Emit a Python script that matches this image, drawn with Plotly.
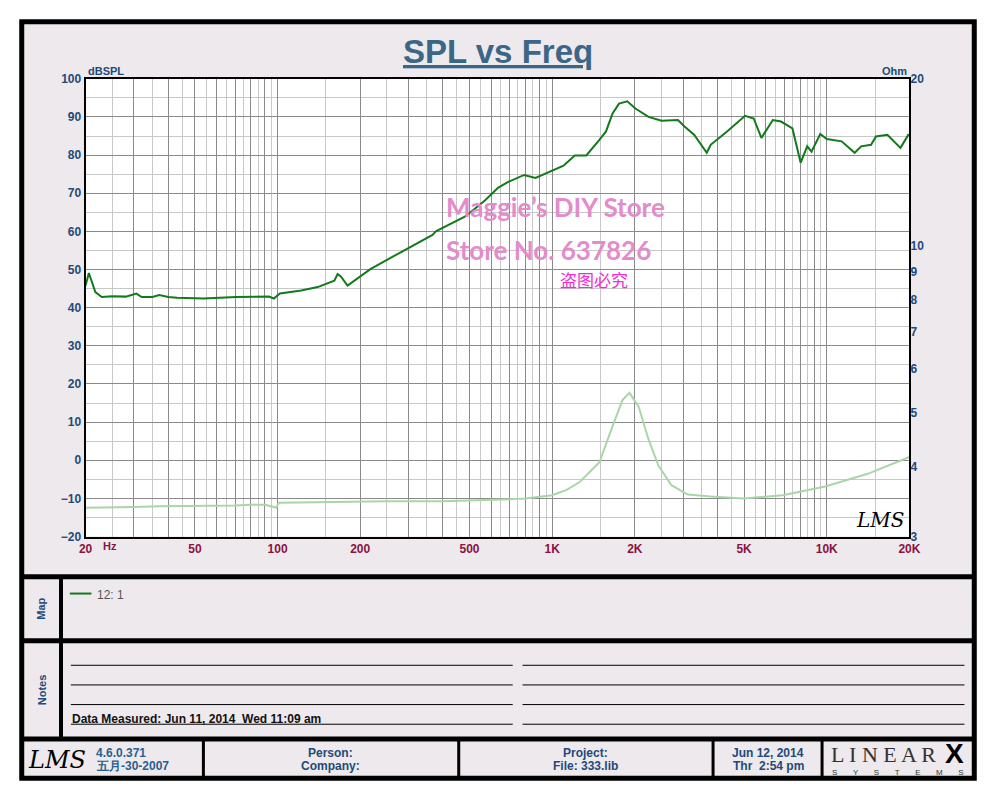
import numpy as np
import plotly.graph_objects as go

# ---------------- data ----------------
spl_freq = [20, 20.55, 21.7, 22.9, 25, 28, 30.6, 32, 35, 37.1, 40, 43.1, 53.7, 70.6, 93, 96.9,
            102, 109.6, 122, 140, 161, 165.5, 170, 179.8, 190, 217.8, 278.7, 366.7, 377, 457,
            482.8, 569, 635, 689, 791, 870, 985, 1100, 1209, 1332, 1486, 1571, 1660, 1752,
            1877, 2010, 2243, 2504, 2871, 3035, 3294, 3657, 3778, 4335, 5042, 5420, 5781,
            6364, 6815, 7500, 8035, 8490, 8800, 9471, 10010, 11330, 12640, 13350, 14500,
            15110, 16630, 18560, 19890]
spl_db = [45.8, 49.1, 44.1, 42.8, 43.0, 42.9, 43.7, 42.8, 42.8, 43.3, 42.8, 42.6, 42.4, 42.8, 42.9, 42.4,
          43.7, 44.0, 44.5, 45.4, 47.1, 48.8, 48.2, 45.8, 47.1, 50.1, 54.4, 59.1, 60.0, 63.2,
          63.9, 68.1, 71.4, 72.9, 74.8, 74.0, 75.7, 77.2, 79.9, 79.9, 84.0, 86.2, 90.9, 93.5,
          94.1, 92.2, 90.0, 89.0, 89.2, 87.5, 85.3, 80.6, 82.7, 86.2, 90.3, 89.6, 84.5,
          89.2, 88.8, 87.0, 78.0, 82.3, 80.9, 85.5, 84.2, 83.6, 80.6, 82.3, 82.7,
          84.9, 85.3, 81.9, 85.5]

imp_freq = [20, 25, 30, 37, 40, 50, 60, 70, 80, 90, 97, 99, 101, 150, 200, 250, 400, 500, 635,
            800, 1000, 1129, 1260, 1486, 1660, 1803, 1913, 2065, 2243, 2435, 2719, 3118, 3778,
            4971, 6910, 9870, 14100, 20000]
imp_ohm = [3.38, 3.38, 3.39, 3.40, 3.40, 3.40, 3.40, 3.41, 3.42, 3.42, 3.39, 3.38, 3.45, 3.46, 3.46,
           3.47, 3.47, 3.48, 3.49, 3.51, 3.56, 3.64, 3.76, 4.08, 4.74, 5.28, 5.44, 5.14, 4.49,
           4.03, 3.71, 3.57, 3.54, 3.51, 3.56, 3.69, 3.89, 4.17]

x_major = [20, 30, 40, 50, 60, 70, 80, 90, 100, 200, 300, 400, 500, 600, 700, 800, 900,
           1000, 2000, 3000, 4000, 5000, 6000, 7000, 8000, 9000, 10000, 20000]
x_labels = {20: "20", 50: "50", 100: "100", 200: "200", 500: "500", 1000: "1K",
            2000: "2K", 5000: "5K", 10000: "10K", 20000: "20K"}
x_minor = [25, 35, 45, 55, 65, 75, 85, 95, 150, 250, 350, 450, 550, 650, 750, 850, 950,
           1500, 2500, 3500, 4500, 5500, 6500, 7500, 8500, 9500, 15000]
ohm_ticks = [3, 4, 5, 6, 7, 8, 9, 10, 20]

# ---------------- helpers ----------------
W, H = 1000, 800
def px(x):
    return x / W
def py(y):
    return 1 - y / H

BG = "#EDE9EC"
NAVY = "#1F4A7A"
NARROW = "Liberation Sans Narrow, Arial Narrow, Liberation Sans, Arial"

fig = go.Figure()
fig.add_trace(go.Scatter(x=imp_freq, y=imp_ohm, yaxis="y2", mode="lines",
                         line=dict(color="#A9D6A6", width=2), showlegend=False, hoverinfo="skip"))
fig.add_trace(go.Scatter(x=spl_freq, y=spl_db, mode="lines",
                         line=dict(color="#137A1C", width=2), showlegend=False))

shapes = []
def rect(x0, y0, x1, y1, fill=None, lw=0, lc="black"):
    shapes.append(dict(type="rect", xref="paper", yref="paper", x0=px(x0), x1=px(x1),
                       y0=py(y1), y1=py(y0), fillcolor=fill if fill else "rgba(0,0,0,0)",
                       line=dict(width=lw, color=lc), layer="below"))
def line(x0, y0, x1, y1, lw=1, lc="black", layer="below"):
    shapes.append(dict(type="line", xref="paper", yref="paper", x0=px(x0), x1=px(x1),
                       y0=py(y0), y1=py(y1), line=dict(width=lw, color=lc), layer=layer))

rect(15, 15, 985, 785, fill=BG, lw=5)
rect(80, 73, 919, 539, fill="white")
# panel dividers
line(15, 580, 985, 580, lw=5)
line(15, 645, 985, 645, lw=5)
line(15, 745, 985, 745, lw=5)
line(55, 580, 55, 745, lw=4)
for xx in [200, 460, 719, 830]:
    line(xx, 745, xx, 785, lw=3)
# notes lines
for yy in [670, 690, 710, 730]:
    line(65, yy, 515, yy, lw=1)
    line(525, yy, 975, yy, lw=1)
# map legend sample
line(64, 597, 86, 597, lw=2, lc="#137A1C")

ann = []
def text(x, y, s, size=11, color=NAVY, bold=True, family=NARROW, anchor="center", angle=0, italic=False):
    ann.append(dict(x=px(x), y=py(y), xref="paper", yref="paper", text=s, showarrow=False,
                    xanchor=anchor, yanchor="middle", textangle=angle,
                    font=dict(size=size, color=color, family=family,
                              weight="bold" if bold else "normal",
                              style="italic" if italic else "normal")))

text(500, 45, "<u>SPL vs Freq</u>", size=33, color="#3C6686", family="Liberation Sans, Arial")
text(80, 65, "dBSPL", size=11, anchor="left")
text(919, 65, "Ohm", size=11, anchor="right")
text(96, 549, "Hz", size=11, color="#8B1242", anchor="left")
text(559, 204, "Maggie’s DIY Store", size=26, color="#E38BCB", family="Lato, Open Sans, sans-serif")
text(551, 247, "Store No. 637826", size=26, color="#E38BCB", family="Lato, Open Sans, sans-serif")
text(598, 277, "盗图必究", size=17, color="#F02ED0", bold=False, family="Noto Sans CJK SC")
text(889, 522, "LMS", size=20, color="black", bold=False, family="DejaVu Serif", italic=True)
text(35, 612, "Map", size=11, angle=-90)
text(35, 695, "Notes", size=11, angle=-90)
text(90, 598, "12: 1", size=12, color="#555555", bold=False, family="Liberation Sans, Arial", anchor="left")
text(64, 725, "Data Measured: Jun 11, 2014  Wed 11:09 am", size=12, color="#111111", anchor="left")
text(51, 766, "LMS", size=24, color="black", bold=False, family="DejaVu Serif", italic=True)
text(89, 759, "4.6.0.371", size=12, color="#2A5F8F", anchor="left")
text(89, 773, "五月-30-2007", size=12, color="#2A5F8F", anchor="left")
text(329, 759, "Person:", size=12)
text(329, 773, "Company:", size=12)
text(589, 759, "Project:", size=12)
text(589, 773, "File: 333.lib", size=12)
text(775, 759, "Jun 12, 2014", size=12)
text(775, 773, "Thr  2:54 pm", size=12)
text(837, 761, "L I N E A R", size=22, color="#333333", bold=False, family="Liberation Serif, DejaVu Serif", anchor="left")
text(965, 760, "X", size=28, color="black", bold=True, family="Liberation Sans, Arial")
sp = "&nbsp;" * 7
text(907, 779, sp.join(list("SYSTEMS")), size=8, color="#333333", bold=False, family="Liberation Sans, Arial")

fig.update_layout(
    width=W, height=H, margin=dict(l=0, r=0, t=0, b=0),
    paper_bgcolor="white", plot_bgcolor="white",
    showlegend=False, shapes=shapes, annotations=ann,
    xaxis=dict(type="log", domain=[px(80), px(919)],
               range=[np.log10(19.99), np.log10(20010)],
               tickmode="array", tickvals=x_major,
               ticktext=[x_labels.get(v, "") for v in x_major],
               showgrid=True, gridcolor="#8A8A8A", gridwidth=1,
               minor=dict(tickmode="array", tickvals=x_minor, showgrid=True,
                          gridcolor="#C8C8C8", gridwidth=1, ticks=""),
               ticks="", showline=True, linecolor="black", linewidth=2, mirror=True,
               tickfont=dict(family=NARROW, size=12, color="#8B1242", weight="bold"),
               zeroline=False, fixedrange=True),
    yaxis=dict(domain=[py(539), py(73)], range=[-20, 100.02], tickmode="linear", tick0=0, dtick=10,
               showgrid=True, gridcolor="#8A8A8A", gridwidth=1,
               minor=dict(tickmode="linear", tick0=5, dtick=10, showgrid=True,
                          gridcolor="#C8C8C8", gridwidth=1, ticks=""),
               ticks="", showline=True, linecolor="black", linewidth=2, mirror=True,
               tickfont=dict(family=NARROW, size=12, color=NAVY, weight="bold"),
               zeroline=False, fixedrange=True),
    yaxis2=dict(overlaying="y", side="right", type="log",
                range=[np.log10(2.999), np.log10(20.005)],
                tickmode="array", tickvals=ohm_ticks, ticktext=[str(v) for v in ohm_ticks],
                showgrid=False, ticks="", showline=False, zeroline=False,
                tickfont=dict(family=NARROW, size=12, color=NAVY, weight="bold"),
                fixedrange=True),
)

fig.write_html("out.html", config={"displayModeBar": False},
               post_script="document.body.style.margin='0';document.body.style.overflow='hidden';")
